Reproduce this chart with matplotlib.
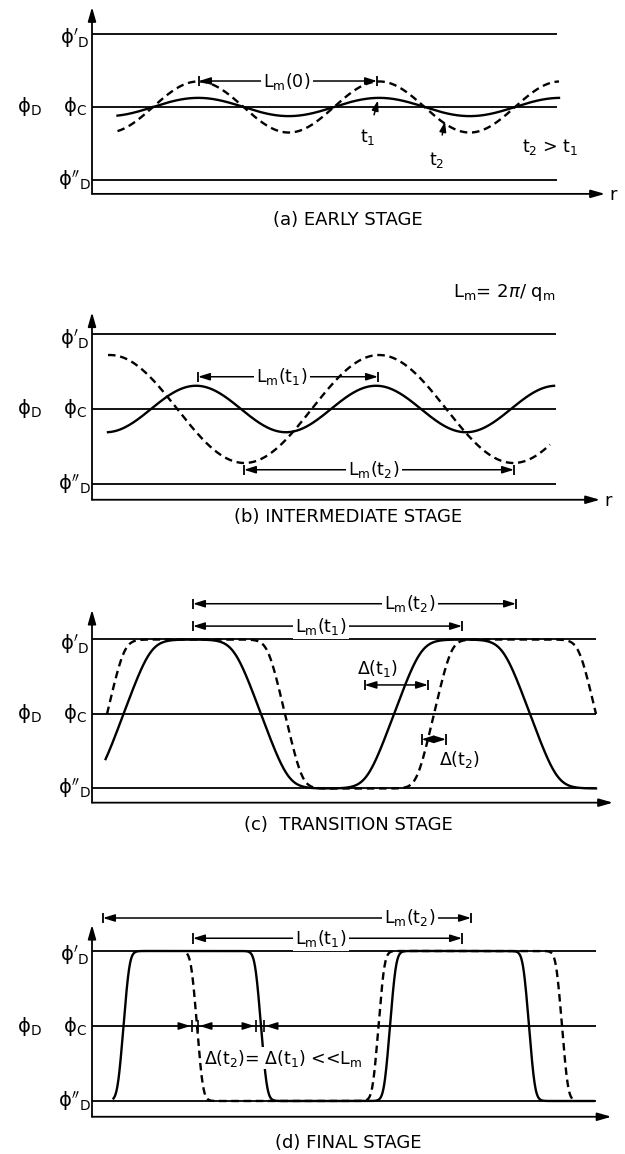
import numpy as np
import matplotlib.pyplot as plt

plt.rcParams['font.family'] = ['DejaVu Sans']
plt.rcParams['mathtext.fontset'] = 'dejavusans'

# ---------------- data (r measured from the vertical axis, phi in level units) -------------
LEVELS = [1.0, 0.0, -1.0]                       # phi'_D, phi_C, phi''_D
LEVEL_LABELS = [r"$\mathrm{ϕ}'_{\rm D}$", r"$\mathrm{ϕ}_{\rm C}$", r"$\mathrm{ϕ}''_{\rm D}$"]
AXIS_LABEL = r"$\mathrm{ϕ}_{\rm D}$"
TITLES = ["(a) EARLY STAGE", "(b) INTERMEDIATE STAGE",
          "(c)  TRANSITION STAGE", "(d) FINAL STAGE"]

# (a) early stage: small sinusoidal modulations, same wavelength
A_DOMAIN = [25.5, 467.0]
A_UP_CROSSING = 61.0
A_WAVELENGTH = 181.0
A_AMP_T1 = 0.125
A_AMP_T2 = 0.35

# (b) intermediate stage: t1 short wavelength, t2 longer wavelength
B_T1_DOMAIN = [16.0, 462.0]
B_T1_UP_CROSSING = 59.0
B_T1_WAVELENGTH = 180.0
B_T1_AMP = 0.31
B_T2_DOMAIN = [16.0, 458.0]
B_T2_PEAK = 287.0
B_T2_WAVELENGTH = 269.0
B_T2_AMP = 0.72

# (c) transition stage: interfaces (alternating up / down), start level, half-width
C_T1_DOMAIN = [13.6, 504.0]
C_T1_INTERFACES = [31.5, 169.0, 302.0, 438.0]
C_T1_START = -1
C_T1_HALFWIDTH = 27.0
C_T2_DOMAIN = [15.0, 504.0]
C_T2_INTERFACES = [15.0, 193.0, 342.0, 504.0]
C_T2_START = -1
C_T2_HALFWIDTH = 17.0

# (d) final stage: sharp interfaces
D_T1_DOMAIN = [21.5, 501.6]
D_T1_INTERFACES = [31.5, 169.0, 298.0, 437.0]
D_T1_START = -1
D_T1_HALFWIDTH = 5.5
D_T2_DOMAIN = [95.0, 482.0]
D_T2_INTERFACES = [105.0, 286.5, 470.0]
D_T2_START = 1
D_T2_HALFWIDTH = 5.5

# dimension markers: (r_start, r_end, phi, label, label_r)
A_DIMS = [(107.0, 285.0, 0.356, r"L$_{\rm m}$(0)", 195.0)]
B_DIMS = [(106.0, 286.0, 0.43, r"L$_{\rm m}$(t$_1$)", 190.0),
          (152.0, 422.0, -0.81, r"L$_{\rm m}$(t$_2$)", 282.0)]
C_DIMS = [(101.0, 424.0, 1.48, r"L$_{\rm m}$(t$_2$)", 318.0),
          (101.0, 370.0, 1.18, r"L$_{\rm m}$(t$_1$)", 229.0),
          (272.5, 336.0, 0.39, None, None),
          (329.5, 354.0, -0.34, None, None)]
D_DIMS = [(11.0, 379.0, 1.44, r"L$_{\rm m}$(t$_2$)", 318.0),
          (101.0, 370.0, 1.17, r"L$_{\rm m}$(t$_1$)", 229.0)]
D_DELTA_PAIRS = [(100.0, 106.0), (164.0, 172.0)]

# ---------------- layout ----------------
W, H = 625, 1154
AXIS_X_PX = 92
PANEL_Y = [(107, 73.0), (409, 75.0), (714, 74.5), (1026, 75.0)]   # (phi_C pixel row, px per unit)
LEVEL_END = [465, 464, 504, 503.6]
XAXIS_TIP = [513, 508, 521, 519.5]
XAXIS_PHI = [-1.19, -1.21, -1.19, -1.21]
YAXIS_TOP = [1.37, 1.29, 1.40, 1.35]
TITLE_PHI = [-1.548, -1.44, -1.49, -1.56]

LW_CURVE = 1.7
LW_LINE = 1.3
DASH = (0, (3.2, 2.0))
CORNER = 2.0

fig = plt.figure(figsize=(W / 100, H / 100), dpi=100)
fig.patch.set_facecolor('white')


def make_ax(yc, unit):
    lo, hi = -1.75, 1.75
    top = yc - unit * hi
    bot = yc - unit * lo
    ax = fig.add_axes([0, 1 - bot / H, 1, (bot - top) / H])
    ax.set_xlim(-AXIS_X_PX, W - AXIS_X_PX)
    ax.set_ylim(lo, hi)
    ax.axis('off')
    ax.patch.set_alpha(0)
    return ax


def logcosh(z):
    z = np.abs(z)
    return z + np.log1p(np.exp(-2 * z)) - np.log(2)


def smooth_ramp(x, k):
    # linear ramp from -1 to 1 over x in [-1, 1] with rounded corners
    return (logcosh(k * (x + 1)) - logcosh(k * (x - 1))) / (2 * k)


def kink_profile(r, interfaces, start, halfwidth, k=CORNER):
    y = np.full_like(r, float(start))
    sign = 1 if start < 0 else -1
    for xi in interfaces:
        y += sign * (1 + smooth_ramp((r - xi) / halfwidth, k))
        sign = -sign
    return y


def frame(ax, i, r_label=False):
    ax.hlines(LEVELS, 0, LEVEL_END[i], color='k', lw=LW_LINE)
    for xy, xyt in (((0, YAXIS_TOP[i]), (0, XAXIS_PHI[i])),
                    ((XAXIS_TIP[i], XAXIS_PHI[i]), (0, XAXIS_PHI[i]))):
        ax.annotate('', xy=xy, xytext=xyt,
                    arrowprops=dict(arrowstyle='-|>,head_length=0.7,head_width=0.2',
                                    color='k', lw=LW_LINE, shrinkA=0, shrinkB=0,
                                    mutation_scale=12))
    for lev, lab in zip(LEVELS, LEVEL_LABELS):
        off = -0.06 if lev > 0.5 else 0.0
        ax.text(-17, lev + off, lab, ha='center', va='center', fontsize=14)
    ax.text(-63, 0, AXIS_LABEL, ha='center', va='center', fontsize=14)
    if r_label:
        ax.text(XAXIS_TIP[i] + 8, XAXIS_PHI[i] - 0.02, 'r', ha='center',
                va='center', fontsize=13)
    ax.text(256, TITLE_PHI[i], TITLES[i], ha='center', va='center', fontsize=13)


def dimension(ax, r0, r1, phi, label=None, label_r=None, tick=0.07):
    ax.annotate('', xy=(r0, phi), xytext=(r1, phi),
                arrowprops=dict(arrowstyle='<|-|>,head_length=0.7,head_width=0.22',
                                color='k', lw=1.1, shrinkA=0, shrinkB=0,
                                mutation_scale=10))
    ax.vlines([r0, r1], phi - tick, phi + tick, color='k', lw=1.3)
    if label is not None:
        ax.text(label_r, phi, label, ha='center', va='center', fontsize=12.5,
                bbox=dict(facecolor='white', edgecolor='none', pad=1.5), zorder=5)


axes = [make_ax(yc, u) for yc, u in PANEL_Y]

# ---------------- (a) ----------------
ax = axes[0]
frame(ax, 0, r_label=True)
r = np.linspace(A_DOMAIN[0], A_DOMAIN[1], 600)
ax.plot(r, A_AMP_T1 * np.sin(2 * np.pi * (r - A_UP_CROSSING) / A_WAVELENGTH),
        color='k', lw=LW_CURVE)
ax.plot(r, A_AMP_T2 * np.sin(2 * np.pi * (r - A_UP_CROSSING) / A_WAVELENGTH),
        color='k', lw=LW_CURVE, linestyle=DASH)
for d in A_DIMS:
    dimension(ax, *d)
ax.annotate(r"t$_1$", xy=(286, 0.09), xytext=(276, -0.41), ha='center', va='center',
            fontsize=12.5, arrowprops=dict(arrowstyle='-|>,head_length=0.6,head_width=0.2',
                                           color='k', lw=1.1, shrinkA=7, shrinkB=0,
                                           mutation_scale=10))
ax.annotate(r"t$_2$", xy=(353, -0.2), xytext=(345, -0.726), ha='center', va='center',
            fontsize=12.5, arrowprops=dict(arrowstyle='-|>,head_length=0.6,head_width=0.2',
                                           color='k', lw=1.1, shrinkA=9, shrinkB=0,
                                           mutation_scale=10))
ax.text(458, -0.548, r"t$_2$ > t$_1$", ha='center', va='center', fontsize=12.5)

# ---------------- (b) ----------------
ax = axes[1]
frame(ax, 1, r_label=True)
r1 = np.linspace(B_T1_DOMAIN[0], B_T1_DOMAIN[1], 600)
ax.plot(r1, B_T1_AMP * np.sin(2 * np.pi * (r1 - B_T1_UP_CROSSING) / B_T1_WAVELENGTH),
        color='k', lw=LW_CURVE)
r2 = np.linspace(B_T2_DOMAIN[0], B_T2_DOMAIN[1], 600)
ax.plot(r2, B_T2_AMP * np.cos(2 * np.pi * (r2 - B_T2_PEAK) / B_T2_WAVELENGTH),
        color='k', lw=LW_CURVE, linestyle=DASH)
for d in B_DIMS:
    dimension(ax, *d)
ax.text(412, 1.547, r"L$_{\rm m}$= 2$\pi$/ q$_{\rm m}$", ha='center', va='center',
        fontsize=13)

# ---------------- (c) ----------------
ax = axes[2]
frame(ax, 2)
r1 = np.linspace(C_T1_DOMAIN[0], C_T1_DOMAIN[1], 1500)
ax.plot(r1, kink_profile(r1, C_T1_INTERFACES, C_T1_START, C_T1_HALFWIDTH),
        color='k', lw=LW_CURVE)
r2 = np.linspace(C_T2_DOMAIN[0], C_T2_DOMAIN[1], 1500)
ax.plot(r2, kink_profile(r2, C_T2_INTERFACES, C_T2_START, C_T2_HALFWIDTH),
        color='k', lw=LW_CURVE, linestyle=DASH)
for d in C_DIMS:
    dimension(ax, *d)
ax.text(285.5, 0.617, r"$\Delta$(t$_1$)", ha='center', va='center', fontsize=12.5)
ax.text(368, -0.617, r"$\Delta$(t$_2$)", ha='center', va='center', fontsize=12.5)

# ---------------- (d) ----------------
ax = axes[3]
frame(ax, 3)
r1 = np.linspace(D_T1_DOMAIN[0], D_T1_DOMAIN[1], 3000)
ax.plot(r1, kink_profile(r1, D_T1_INTERFACES, D_T1_START, D_T1_HALFWIDTH, 1.4),
        color='k', lw=LW_CURVE)
r2 = np.linspace(D_T2_DOMAIN[0], D_T2_DOMAIN[1], 3000)
ax.plot(r2, kink_profile(r2, D_T2_INTERFACES, D_T2_START, D_T2_HALFWIDTH, 1.4),
        color='k', lw=LW_CURVE, linestyle=DASH)
for d in D_DIMS:
    dimension(ax, *d)
for a0, a1 in D_DELTA_PAIRS:
    ax.vlines([a0, a1], -0.08, 0.08, color='k', lw=1.2)
    for tip, tail in ((a0 - 1.5, a0 - 12), (a1 + 1.5, a1 + 12)):
        ax.annotate('', xy=(tip, 0), xytext=(tail, 0),
                    arrowprops=dict(arrowstyle='-|>,head_length=0.7,head_width=0.22',
                                    color='k', lw=1.1, shrinkA=0, shrinkB=0,
                                    mutation_scale=10))
ax.text(191, -0.427, r"$\Delta$(t$_2$)= $\Delta$(t$_1$) <<L$_{\rm m}$", ha='center',
        va='center', fontsize=12.5,
        bbox=dict(facecolor='white', edgecolor='none', pad=0.5))

fig.savefig('out.png', dpi=100, facecolor='white')
